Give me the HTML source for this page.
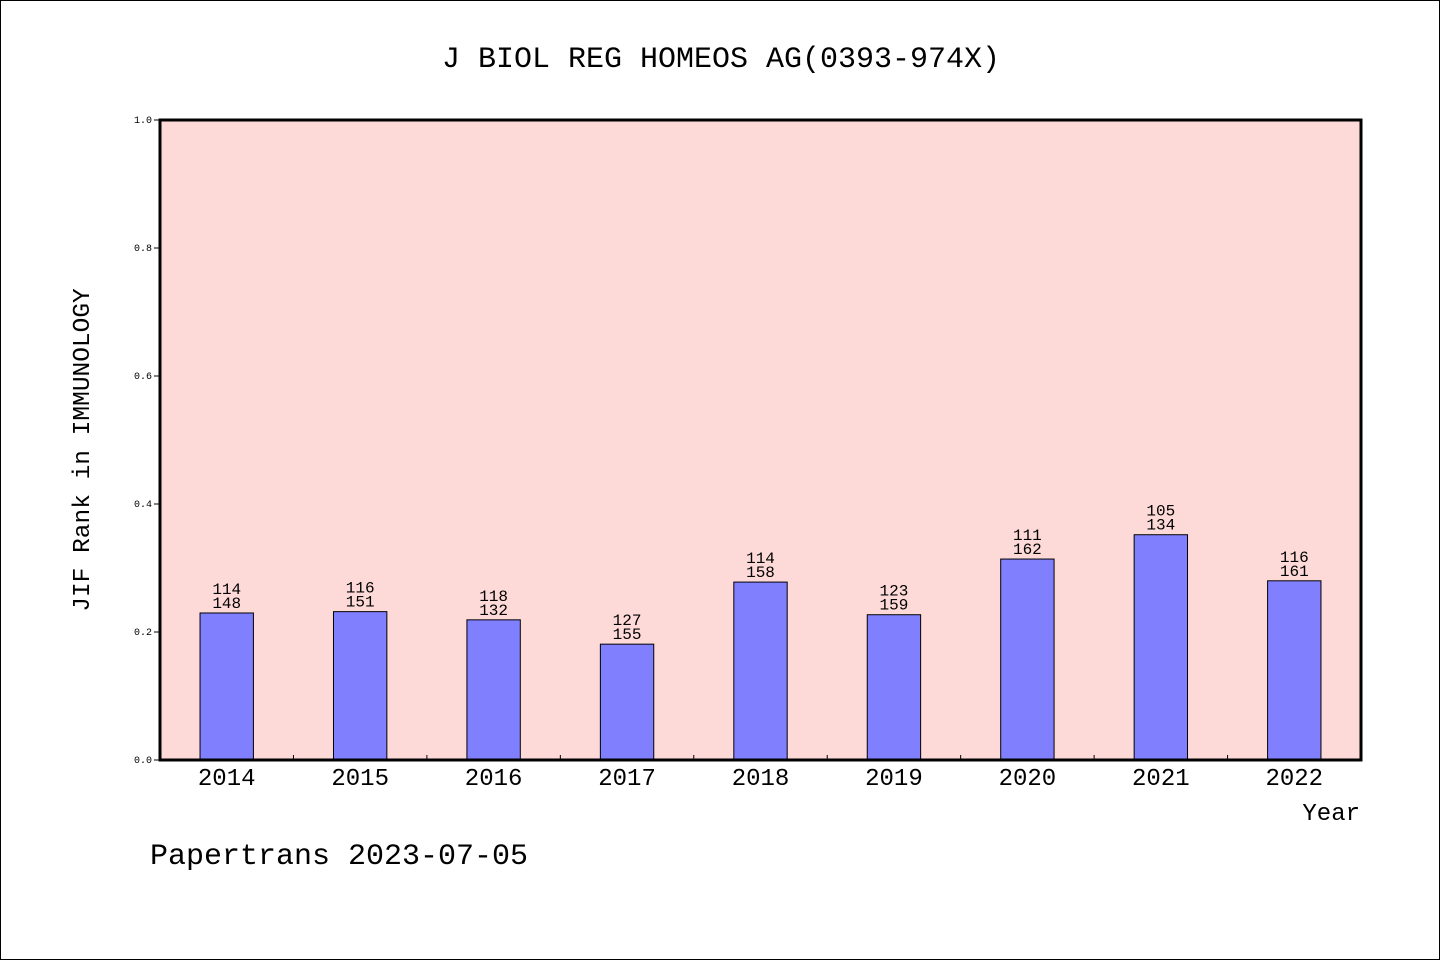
<!DOCTYPE html>
<html><head><meta charset="utf-8"><style>
html,body{margin:0;padding:0;background:#fff;}
svg text{font-family:"Liberation Mono","WenQuanYi Zen Hei",monospace;fill:#000;}
</style></head><body>
<svg width="1440" height="960" viewBox="0 0 1440 960" xmlns="http://www.w3.org/2000/svg">
<rect x="0.5" y="0.5" width="1439" height="959" fill="#fff" stroke="#000"/>
<text x="721" y="67" font-size="30" text-anchor="middle">J BIOL REG HOMEOS AG(0393-974X)</text>
<rect x="160" y="120" width="1201" height="640" fill="#fddad7"/>
<g id="bars"></g>
<g id="axes"></g>
<rect x="160" y="120" width="1201" height="640" fill="none" stroke="#000" stroke-width="3"/>
<text transform="translate(89,450) rotate(-90)" font-size="24.5" text-anchor="middle">JIF Rank in IMMUNOLOGY</text>
<text x="1360" y="820" font-size="24" text-anchor="end">Year</text>
<text x="150" y="864" font-size="30">Papertrans 2023-07-05</text>
</svg>
<script>
const categories=["2014","2015","2016","2017","2018","2019","2020","2021","2022"];
const values=[0.2297,0.2318,0.219,0.181,0.278,0.227,0.314,0.352,0.28];
const ranks=["114","116","118","127","114","123","111","105","116"];
const totals=["148","151","132","155","158","159","162","134","161"];
const yTicks=[0,0.2,0.4,0.6,0.8,1.0];
const yTickLabels=["0.0","0.2","0.4","0.6","0.8","1.0"];
const NS="http://www.w3.org/2000/svg";
const L=160,R=1361,T=120,B=760;
const band=(R-L)/categories.length;
const xC=i=>L+band*(i+0.5);
const y=v=>B-(B-T)*v;
function mk(t,a,p){const e=document.createElementNS(NS,t);for(const k in a)e.setAttribute(k,a[k]);p.appendChild(e);return e;}
const gb=document.getElementById('bars'),ga=document.getElementById('axes');
categories.forEach((c,i)=>{
 const w=band*0.4;
 const r=mk('rect',{x:xC(i)-w/2,y:y(values[i]),width:w,height:B-y(values[i]),fill:'#8080ff',stroke:'#000','stroke-width':1},gb);
 
 
 const t1=mk('text',{x:xC(i),y:y(values[i])-19,'font-size':16,'text-anchor':'middle'},gb);t1.textContent=ranks[i];
 
 
 const t2=mk('text',{x:xC(i),y:y(values[i])-5,'font-size':16,'text-anchor':'middle'},gb);t2.textContent=totals[i];
 
 
 const xl=mk('text',{x:xC(i),y:785,'font-size':24,'text-anchor':'middle'},ga);xl.textContent=c;
 
 
 if(i>0){const tk=mk('line',{x1:L+band*i,x2:L+band*i,y1:B,y2:B-5,stroke:'#000'},ga);
 
 }
});
yTicks.forEach((v,i)=>{
 const tk=mk('line',{x1:L-6,x2:L,y1:y(v),y2:y(v),stroke:'#000'},ga);
 
 
 const t=mk('text',{x:L-8,y:y(v)+3,'font-size':10,'text-anchor':'end'},ga);t.textContent=yTickLabels[i];
 
 
});
</script>
</body></html>
